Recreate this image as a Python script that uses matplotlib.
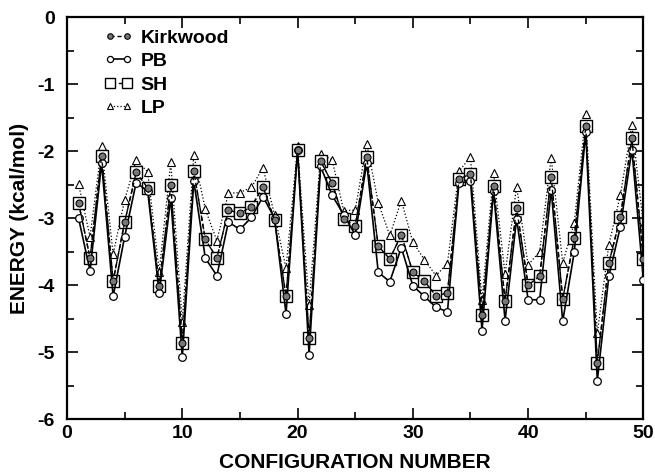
import matplotlib.pyplot as plt
import numpy as np

plt.rcParams['font.family'] = ['Liberation Sans', 'DejaVu Sans']
plt.rcParams['font.weight'] = 'bold'
plt.rcParams['axes.unicode_minus'] = False

config = np.arange(1, 51)

kirkwood = [-2.77, -3.60, -2.07, -3.94, -3.06, -2.32, -2.55, -4.01, -2.51, -4.87,
            -2.30, -3.32, -3.60, -2.88, -2.93, -2.83, -2.53, -3.03, -4.17, -1.99,
            -4.79, -2.15, -2.48, -3.01, -3.12, -2.09, -3.42, -3.61, -3.25, -3.81,
            -3.94, -4.16, -4.12, -2.42, -2.34, -4.44, -2.52, -4.24, -2.85, -4.00,
            -3.87, -2.38, -4.21, -3.30, -1.63, -5.16, -3.67, -2.99, -1.81, -3.61]

pb = [-3.00, -3.79, -2.18, -4.17, -3.28, -2.47, -2.60, -4.12, -2.70, -5.08,
      -2.45, -3.60, -3.86, -3.06, -3.17, -2.99, -2.68, -3.00, -4.43, -1.99,
      -5.04, -2.23, -2.66, -2.95, -3.25, -2.18, -3.81, -3.95, -3.44, -4.01,
      -4.17, -4.33, -4.40, -2.48, -2.45, -4.68, -2.60, -4.53, -3.01, -4.22,
      -4.22, -2.58, -4.54, -3.51, -1.72, -5.43, -3.87, -3.13, -1.98, -3.92]

sh = [-2.77, -3.60, -2.07, -3.94, -3.06, -2.32, -2.55, -4.01, -2.51, -4.87,
      -2.30, -3.32, -3.60, -2.88, -2.93, -2.83, -2.53, -3.03, -4.17, -1.99,
      -4.79, -2.15, -2.48, -3.01, -3.12, -2.09, -3.42, -3.61, -3.25, -3.81,
      -3.94, -4.16, -4.12, -2.42, -2.34, -4.44, -2.52, -4.24, -2.85, -4.00,
      -3.87, -2.38, -4.21, -3.30, -1.63, -5.16, -3.67, -2.99, -1.81, -3.61]

lp = [-2.49, -3.28, -1.93, -3.54, -2.73, -2.14, -2.31, -3.80, -2.17, -4.55,
      -2.06, -2.87, -3.34, -2.63, -2.62, -2.54, -2.25, -2.95, -3.75, -1.93,
      -4.30, -2.04, -2.13, -2.89, -2.88, -1.89, -2.77, -3.26, -2.74, -3.36,
      -3.62, -3.86, -3.68, -2.30, -2.09, -4.22, -2.33, -3.84, -2.53, -3.70,
      -3.50, -2.10, -3.67, -3.07, -1.45, -4.72, -3.40, -2.66, -1.61, -3.10]

fig = plt.figure(figsize=(6.55, 4.74), dpi=100)
ax = fig.add_axes([0.1023, 0.116, 0.880, 0.848])

ax.plot(config, sh, color='black', lw=1.0, ls=(0, (4, 2)), marker='s', ms=9,
        mfc='white', mec='black', mew=1.0, label='SH', zorder=2)
ax.plot(config, pb, color='black', lw=1.2, ls='-', marker='o', ms=5.5,
        mfc='white', mec='black', mew=0.9, label='PB', zorder=3)
ax.plot(config, lp, color='black', lw=0.9, ls=':', marker='^', ms=5.5,
        mfc='white', mec='black', mew=0.8, label='LP', zorder=1)
ax.plot(config, kirkwood, color='black', lw=1.0, ls=(0, (3, 2)), marker='o', ms=5,
        mfc='#777777', mec='black', mew=0.8, label='Kirkwood', zorder=4)

ax.set_xlim(0, 50)
ax.set_ylim(-6, 0)
ax.set_xticks(np.arange(0, 51, 10))
ax.set_xticks(np.arange(0, 51, 5), minor=True)
ax.set_yticks(np.arange(-6, 0.1, 1))
ax.set_yticks(np.arange(-6, 0.1, 0.5), minor=True)
ax.tick_params(which='both', direction='in', top=True, right=True, labelsize=14, width=1.2)
ax.tick_params(which='major', length=8)
ax.tick_params(which='minor', length=5)
ax.tick_params(axis='y', pad=9)
ax.tick_params(axis='x', pad=4)
for lab in ax.get_xticklabels() + ax.get_yticklabels():
    lab.set_fontweight('bold')
for sp in ax.spines.values():
    sp.set_linewidth(1.6)

ax.set_xlabel('CONFIGURATION NUMBER', fontsize=15, fontweight='bold', labelpad=8)
ax.set_ylabel('ENERGY (kcal/mol)', fontsize=15, fontweight='bold', labelpad=6)

handles, labels = ax.get_legend_handles_labels()
order = [labels.index(n) for n in ['Kirkwood', 'PB', 'SH', 'LP']]
leg = ax.legend([handles[i] for i in order], [labels[i] for i in order],
                loc='upper left', bbox_to_anchor=(0.064, 0.97), frameon=False,
                numpoints=2, handlelength=1.5, handletextpad=0.4, labelspacing=0.3,
                borderpad=0, borderaxespad=0, markerscale=0.8,
                prop={'weight': 'bold', 'size': 14})

fig.savefig('out.png', dpi=100)
